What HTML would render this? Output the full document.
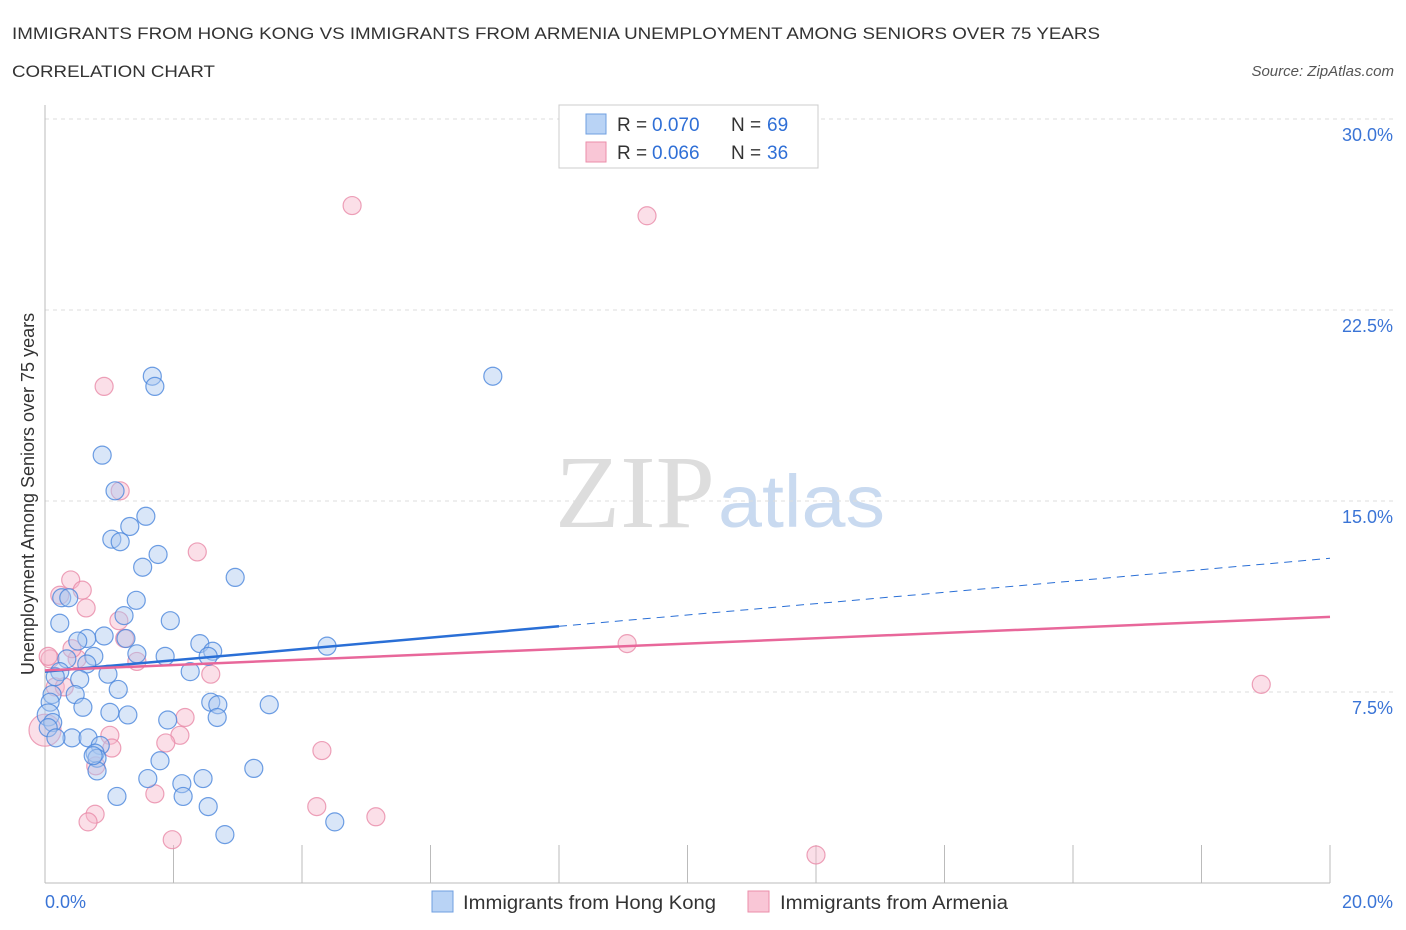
<!DOCTYPE html>
<html><head><meta charset="utf-8"><style>
body{margin:0;background:#fff;font-family:"Liberation Sans",sans-serif;}
svg{display:block}
</style></head><body>
<svg id="c" width="1406" height="930">
<text x="12" y="39" font-size="17" fill="#333" textLength="1088" lengthAdjust="spacingAndGlyphs">IMMIGRANTS FROM HONG KONG VS IMMIGRANTS FROM ARMENIA UNEMPLOYMENT AMONG SENIORS OVER 75 YEARS</text>
<text x="12" y="77" font-size="17" fill="#333" textLength="203" lengthAdjust="spacingAndGlyphs">CORRELATION CHART</text>
<text x="1394" y="76" font-size="15" fill="#555" font-style="italic" text-anchor="end">Source: ZipAtlas.com</text>
<text x="555" y="527" font-size="104" fill="#ddd" font-family="Liberation Serif,serif" textLength="160" lengthAdjust="spacingAndGlyphs">ZIP</text>
<text x="718" y="527" font-size="74" fill="#c9daf0" textLength="167" lengthAdjust="spacingAndGlyphs">atlas</text>
<text transform="translate(34,494) rotate(-90)" font-size="18" fill="#333" text-anchor="middle">Unemployment Among Seniors over 75 years</text>
<g id="grid"></g><g id="marks"></g>
<g>
<rect x="559" y="105" width="259" height="63" fill="#fff" stroke="#ccc"/>
<rect x="586" y="114" width="20" height="20" fill="#b9d3f5" stroke="#6f9fe0"/>
<rect x="586" y="142" width="20" height="20" fill="#f9c6d6" stroke="#eb8eaa"/>
<g font-size="19" fill="#333">
<text x="617" y="131">R =</text><text x="652" y="131" fill="#2f6fd6">0.070</text><text x="731" y="131">N =</text><text x="767" y="131" fill="#2f6fd6">69</text></g>
<g font-size="19" fill="#333">
<text x="617" y="159">R =</text><text x="652" y="159" fill="#2f6fd6">0.066</text><text x="731" y="159">N =</text><text x="767" y="159" fill="#2f6fd6">36</text></g>
</g>
<g>
<rect x="432" y="891" width="21" height="21" fill="#b9d3f5" stroke="#6f9fe0"/>
<text x="463" y="909" font-size="19" fill="#333" textLength="253" lengthAdjust="spacingAndGlyphs">Immigrants from Hong Kong</text>
<rect x="748" y="891" width="21" height="21" fill="#f9c6d6" stroke="#eb8eaa"/>
<text x="780" y="909" font-size="19" fill="#333" textLength="228" lengthAdjust="spacingAndGlyphs">Immigrants from Armenia</text>
</g>
</svg>
<script>
const xTicks=[0,20];
const yTicks=[7.5,15,22.5,30];
const hkX=[1.67,1.71,0.89,1.09,1.57,1.32,1.04,1.17,1.76,1.52,2.96,0.26,1.42,0.37,1.23,0.23,1.95,0.92,0.65,0.51,1.26,2.41,2.61,1.43,1.87,2.54,0.76,0.34,4.39,6.97,0.65,0.23,0.98,0.54,2.26,0.16,0.11,1.14,0.47,2.58,2.69,3.49,0.08,0.59,1.01,1.29,1.91,2.68,0.05,0.12,0.42,0.67,0.86,0.78,0.81,1.79,3.25,1.60,2.13,0.81,2.46,1.12,2.15,2.54,2.80,4.51,0.05,0.17,0.75];
const hkY=[19.9,19.5,16.8,15.4,14.4,14.0,13.5,13.4,12.9,12.4,12.0,11.2,11.1,11.2,10.5,10.2,10.3,9.7,9.6,9.5,9.6,9.4,9.1,9.0,8.9,8.9,8.9,8.8,9.3,19.9,8.6,8.3,8.2,8.0,8.3,8.1,7.4,7.6,7.4,7.1,7.0,7.0,7.1,6.9,6.7,6.6,6.4,6.5,6.6,6.3,5.7,5.7,5.4,5.1,4.9,4.8,4.5,4.1,3.9,4.4,4.1,3.4,3.4,3.0,1.9,2.4,6.1,5.7,5.0];
const hkR=[9,9,9,9,9,9,9,9,9,9,9,9,9,9,9,9,9,9,9,9,9,9,9,9,9,9,9,9,9,9,9,9,9,9,9,9,9,9,9,9,9,9,9,9,9,9,9,9,11,9,9,9,9,9,9,9,9,9,9,9,9,9,9,9,9,9,9,9,9];
const amX=[4.78,9.37,0.92,1.17,2.37,0.40,0.58,0.23,0.64,1.15,1.24,0.08,0.50,0.42,1.43,2.58,0.16,0.30,9.06,18.93,2.18,2.10,1.01,1.88,1.04,4.31,0.79,1.71,4.23,5.15,0.78,0.67,1.98,12.0,0.0,0.05];
const amY=[26.6,26.2,19.5,15.4,13.0,11.9,11.5,11.3,10.8,10.3,9.6,8.8,8.8,9.2,8.7,8.2,7.7,7.7,9.4,7.8,6.5,5.8,5.8,5.5,5.3,5.2,4.6,3.5,3.0,2.6,2.7,2.4,1.7,1.1,6.0,8.9];
const amR=[9,9,9,9,9,9,9,9,9,9,9,9,9,9,9,9,9,9,9,9,9,9,9,9,9,9,9,9,9,9,9,9,9,9,16,9];
const hkLine=[8.3,12.75];const amLine=[8.35,10.45];
const X=v=>45+v/20*1285, Y=v=>883-v/7.5*191;
const NS='http://www.w3.org/2000/svg';
function mk(p,t,a){const e=document.createElementNS(NS,t);for(const k in a)e.setAttribute(k,a[k]);p.appendChild(e);return e;}
const g=document.getElementById('grid'),m=document.getElementById('marks');
yTicks.forEach(t=>{const l=mk(g,'line',{x1:45,x2:1394,y1:Y(t),y2:Y(t),stroke:'#ddd','stroke-dasharray':'4,4'});


const tx=mk(g,'text',{x:1393,y:Y(t)+22,'font-size':18,fill:'#3a74d6','text-anchor':'end'});tx.textContent=t.toFixed(1)+'%';

});
mk(g,'line',{x1:45,x2:45,y1:105,y2:883,stroke:'#bbb'});
mk(g,'line',{x1:45,x2:1330,y1:883,y2:883,stroke:'#bbb'});
for(let i=1;i<=10;i++){const x=X(i*2);mk(g,'line',{x1:x,x2:x,y1:845,y2:883,stroke:'#bbb'});}
xTicks.forEach((t,i)=>{const tx=mk(g,'text',{x:i?1393:45,y:908,'font-size':18,fill:'#3a74d6','text-anchor':i?'end':'start'});tx.textContent=t.toFixed(1)+'%';

});
function dots(xs,ys,rs,f,s,n){xs.forEach((x,i)=>{const c=mk(m,'circle',{cx:X(x),cy:Y(ys[i]),r:rs[i],fill:f,'fill-opacity':0.45,stroke:s,'stroke-opacity':0.8,'stroke-width':1.2});

});}
dots(amX,amY,amR,'#f7b8cc','#e98aa8','point-armenia');
dots(hkX,hkY,hkR,'#aac8f0','#4a86dc','point-hong-kong');
const xm=8;const hm=hkLine[0]+(hkLine[1]-hkLine[0])*xm/20;
const l1=mk(m,'line',{x1:X(0),y1:Y(hkLine[0]),x2:X(xm),y2:Y(hm),stroke:'#2a6fd6','stroke-width':2.5});


const l2=mk(m,'line',{x1:X(xm),y1:Y(hm),x2:X(20),y2:Y(hkLine[1]),stroke:'#2a6fd6','stroke-width':1,'stroke-dasharray':'8,6'});


const l3=mk(m,'line',{x1:X(0),y1:Y(amLine[0]),x2:X(20),y2:Y(amLine[1]),stroke:'#e8679a','stroke-width':2.5});


</script>
</body></html>
